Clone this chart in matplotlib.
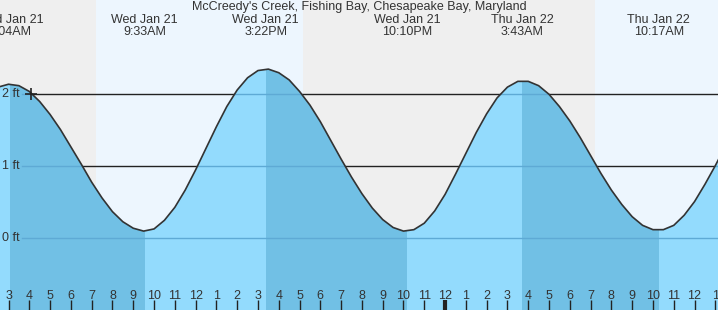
import matplotlib
matplotlib.use("Agg")
import matplotlib.pyplot as plt
import matplotlib.transforms as mtransforms

# ---- data (hours since Wed Jan 21 00:00) ----
title = "McCreedy's Creek, Fishing Bay, Chesapeake Bay, Maryland"

# tide level every half hour (ft)
level_times = [2.5 + 0.5 * i for i in range(71)]
level_ft = [2.10, 2.14, 2.12, 2.04, 1.90, 1.72, 1.51, 1.27, 1.03, 0.78,
            0.56, 0.37, 0.23, 0.14, 0.10, 0.13, 0.25, 0.43, 0.67, 0.95,
            1.25, 1.55, 1.83, 2.06, 2.23, 2.33, 2.35, 2.30, 2.20, 2.04,
            1.85, 1.62, 1.36, 1.10, 0.85, 0.62, 0.42, 0.26, 0.15, 0.10,
            0.12, 0.21, 0.38, 0.61, 0.89, 1.18, 1.47, 1.73, 1.95, 2.10,
            2.18, 2.18, 2.12, 2.00, 1.83, 1.63, 1.40, 1.15, 0.90, 0.67,
            0.47, 0.30, 0.18, 0.12, 0.12, 0.18, 0.32, 0.51, 0.75, 1.01,
            1.29]

# high / low tide events
event_times = [3.067, 9.55, 15.367, 22.167, 27.717, 34.283]
event_labels = ["Wed Jan 21\n3:04AM", "Wed Jan 21\n9:33AM", "Wed Jan 21\n3:22PM",
                "Wed Jan 21\n10:10PM", "Thu Jan 22\n3:43AM", "Thu Jan 22\n10:17AM"]
# falling-tide intervals (high -> low), drawn darker
falling = [(3.067, 9.55), (15.367, 22.167), (27.717, 34.283)]

# daylight intervals
daylight = [(7.21, 17.17), (31.21, 40.0)]

hour_ticks = list(range(3, 38))
hour_labels = [str((h - 1) % 12 + 1) for h in hour_ticks]
midnight = 24

ft_levels = [0, 1, 2]
ft_labels = ["0 ft", "1 ft", "2 ft"]
marker_time, marker_level = 4.08, 2.0

# ---- style ----
NIGHT = "#efefef"
DAY = "#edf6fe"
WATER_LIGHT = "#93dbfd"
WATER_DARK = "#71c0e5"
WATER_LINE = "#5eaad5"
TXT = "#333333"
plt.rcParams["font.family"] = ["Liberation Sans", "DejaVu Sans"]

fig = plt.figure(figsize=(7.18, 3.10), dpi=100)
ax = fig.add_axes([0, 0, 1, 1])
ax.set_xlim(2.591, 37.128)
ax.set_ylim(-0.996, 3.31)
ax.axis("off")

ax.axvspan(0, 50, color=NIGHT, lw=0, zorder=0)
for a, b in daylight:
    ax.axvspan(a, b, color=DAY, lw=0, zorder=0.5)

# black level lines behind water
for lv in [1, 2]:
    ax.axhline(lv, color="#222222", lw=1.0, zorder=1)

poly = ax.fill_between(level_times, level_ft, -2, color=WATER_LIGHT, lw=0, zorder=2)
clip = poly.get_paths()[0]
for a, b in falling:
    sp = ax.axvspan(a, b, color=WATER_DARK, lw=0, zorder=2.5)
    sp.set_clip_path(clip, ax.transData)

# subtle lines in water
for lv in ft_levels:
    ln = ax.axhline(lv, xmin=0.03, xmax=1, color=WATER_LINE, lw=1.0, zorder=2.7)
    ln.set_clip_path(clip, ax.transData)

ax.plot(level_times, level_ft, color="#333333", lw=1.2, zorder=3)
ax.plot([marker_time], [marker_level], marker="+", color="#222222", ms=9, mew=1.2, zorder=4)

for lv, lab in zip(ft_levels, ft_labels):
    ax.text(2.591 + 0.1, lv, lab, ha="left", va="center", fontsize=9, color=TXT, zorder=5)

trans = mtransforms.blended_transform_factory(ax.transData, ax.transAxes)
for h, lab in zip(hour_ticks, hour_labels):
    ax.text(h, 1 - 296 / 310, lab, transform=trans, ha="center", va="center",
            fontsize=9, color=TXT, zorder=5)
    ax.plot([h, h], [0, 10 / 310], transform=trans, color="#222222",
            lw=3 if h == midnight else 1, solid_capstyle="butt", zorder=5)

for t, lab in zip(event_times, event_labels):
    ax.text(t, 1 - 26 / 310, lab, transform=trans, ha="center", va="center",
            fontsize=9, color=TXT, linespacing=1.0, zorder=5)

ax.text(0.5, 1 - 7 / 310, title, transform=ax.transAxes, ha="center", va="center",
        fontsize=9, color=TXT, zorder=5)

fig.savefig("out.png", dpi=100)
